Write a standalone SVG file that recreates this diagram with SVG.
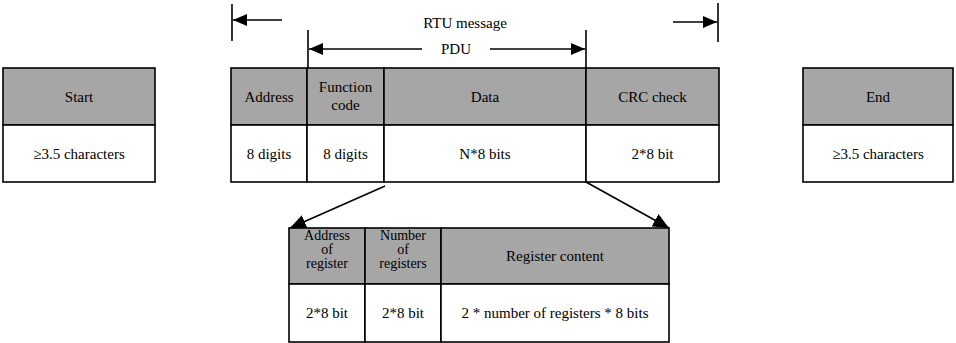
<svg xmlns="http://www.w3.org/2000/svg" width="956" height="343" viewBox="0 0 956 343">
<defs>
<style>
.h{fill:#a6a6a6;stroke:#000;stroke-width:1.6}
.b{fill:#fff;stroke:#000;stroke-width:1.6}
.t{font-family:"Liberation Serif","Times New Roman",Times,serif;font-size:15px;fill:#000;text-anchor:middle}
.s{font-size:14px}
.l{stroke:#000;stroke-width:1.6;fill:none}
</style>
<marker id="ah" viewBox="0 0 14 12" refX="14" refY="6" markerWidth="14" markerHeight="12" markerUnits="userSpaceOnUse" orient="auto"><path d="M0,0L14,6L0,12z" fill="#000"/></marker>
<marker id="ab" viewBox="0 0 16 14" refX="16" refY="7" markerWidth="16" markerHeight="14" markerUnits="userSpaceOnUse" orient="auto"><path d="M0,0L16,7L0,14z" fill="#000"/></marker>
</defs>
<g id="start">
<rect class="h" x="3" y="68" width="152" height="57"/>
<rect class="b" x="3" y="125" width="152" height="57"/>
<text class="t" x="79" y="102">Start</text>
<text class="t" x="79" y="159">≥3.5 characters</text>
</g>
<g id="address">
<rect class="h" x="231" y="68" width="76" height="57"/>
<rect class="b" x="231" y="125" width="76" height="57"/>
<text class="t" x="269" y="102">Address</text>
<text class="t" x="269" y="159">8 digits</text>
</g>
<g id="function">
<rect class="h" x="307" y="68" width="77" height="57"/>
<rect class="b" x="307" y="125" width="77" height="57"/>
<text class="t" x="345.5" y="92">Function</text>
<text class="t" x="345.5" y="110">code</text>
<text class="t" x="345.5" y="159">8 digits</text>
</g>
<g id="data">
<rect class="h" x="384" y="68" width="202" height="57"/>
<rect class="b" x="384" y="125" width="202" height="57"/>
<text class="t" x="485" y="102">Data</text>
<text class="t" x="485" y="159">N*8 bits</text>
</g>
<g id="crc">
<rect class="h" x="586" y="68" width="133" height="57"/>
<rect class="b" x="586" y="125" width="133" height="57"/>
<text class="t" x="652.5" y="102">CRC check</text>
<text class="t" x="652.5" y="159">2*8 bit</text>
</g>
<g id="end">
<rect class="h" x="803" y="68" width="150" height="57"/>
<rect class="b" x="803" y="125" width="150" height="57"/>
<text class="t" x="878" y="102">End</text>
<text class="t" x="878" y="159">≥3.5 characters</text>
</g>
<g id="regaddr">
<rect class="h" x="289" y="228" width="76" height="56"/>
<rect class="b" x="289" y="284" width="76" height="58"/>
<text class="t s" x="327" y="240">Address</text>
<text class="t s" x="327" y="254">of</text>
<text class="t s" x="327" y="268">register</text>
<text class="t" x="327" y="318">2*8 bit</text>
</g>
<g id="regnum">
<rect class="h" x="365" y="228" width="76" height="56"/>
<rect class="b" x="365" y="284" width="76" height="58"/>
<text class="t s" x="403" y="240">Number</text>
<text class="t s" x="403" y="254">of</text>
<text class="t s" x="403" y="268">registers</text>
<text class="t" x="403" y="318">2*8 bit</text>
</g>
<g id="regcontent">
<rect class="h" x="441" y="228" width="228" height="56"/>
<rect class="b" x="441" y="284" width="228" height="58"/>
<text class="t" x="555" y="261">Register content</text>
<text class="t" x="555" y="318">2 * number of registers * 8 bits</text>
</g>
<g id="labels">
<text class="t" x="465" y="28">RTU message</text>
<text class="t" x="456" y="54">PDU</text>
</g>
<g id="connectors">
<line class="l" x1="232" y1="4" x2="232" y2="41"/>
<line class="l" x1="282" y1="20" x2="233" y2="20" marker-end="url(#ah)"/>
<line class="l" x1="718" y1="3" x2="718" y2="42"/>
<line class="l" x1="673" y1="22" x2="717" y2="22" marker-end="url(#ah)"/>
<line class="l" x1="308" y1="30" x2="308" y2="68"/>
<line class="l" x1="422" y1="49" x2="309" y2="49" marker-end="url(#ah)"/>
<line class="l" x1="586" y1="30" x2="586" y2="68"/>
<line class="l" x1="490" y1="49" x2="585" y2="49" marker-end="url(#ah)"/>
<line class="l" x1="385" y1="186" x2="290" y2="228" marker-end="url(#ab)"/>
<line class="l" x1="586" y1="182" x2="669" y2="228" marker-end="url(#ab)"/>
</g>
</svg>
